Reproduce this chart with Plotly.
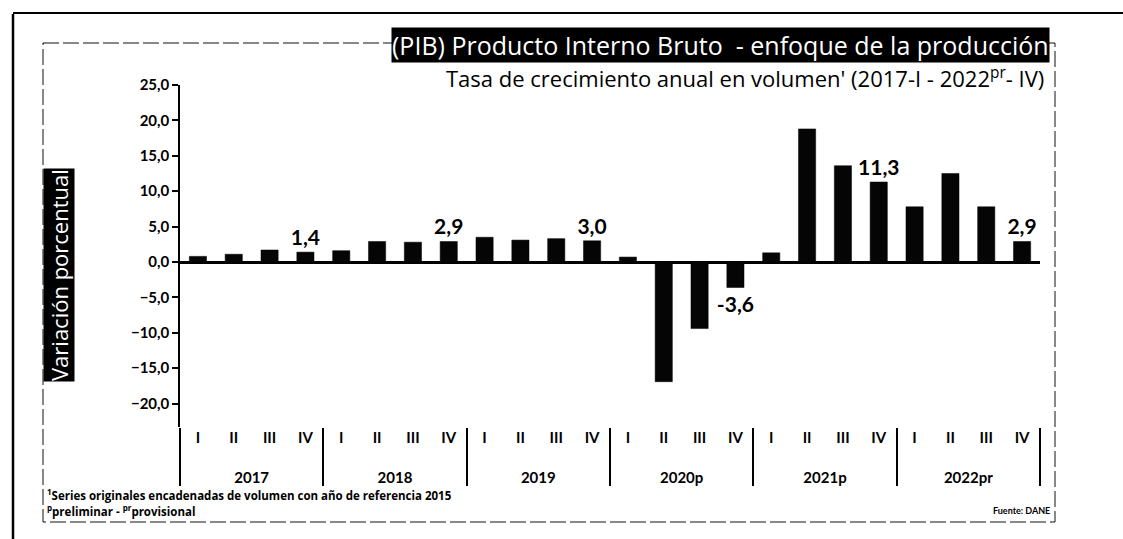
import plotly.graph_objects as go

# ---- data ----
years = ["2017", "2018", "2019", "2020p", "2021p", "2022pr"]
quarters = ["I", "II", "III", "IV"]
growth = [
    0.8, 1.1, 1.7, 1.4,      # 2017
    1.6, 2.9, 2.8, 2.9,      # 2018
    3.5, 3.1, 3.3, 3.0,      # 2019
    0.7, -16.9, -9.4, -3.6,  # 2020p
    1.3, 18.8, 13.6, 11.3,   # 2021p
    7.8, 12.5, 7.8, 2.9,     # 2022pr
]
# which bars carry a value label
labeled = [False, False, False, True,
           False, False, False, True,
           False, False, False, True,
           False, False, False, True,
           False, False, False, True,
           False, False, False, True]
y_ticks = [25, 20, 15, 10, 5, 0, -5, -10, -15, -20]

x_year = [y for y in years for _ in quarters]
# an extra blank line under the quarter labels spaces out the year row
x_q = [q + "<br>\u00a0" for _ in years for q in quarters]

W, H = 1123, 539
L, R, T, B = 180, 1040, 85, 427  # plot area in pixels


def px(x):
    return (x - L) / (R - L)


def py(y):
    return (B - y) / (B - T)


FONT = "Lato"
WIDE = "Open Sans"

fig = go.Figure()
fig.add_trace(go.Bar(
    x=[x_year, x_q],
    y=growth,
    marker=dict(color="#050505", line=dict(color="#050505", width=0.5)),
    texttemplate=["%{y:.1f}" if f else "" for f in labeled],
    textposition="outside",
    constraintext="none",
    textfont=dict(family=FONT, size=21, color="black", weight=700),
    cliponaxis=False,
    hoverinfo="skip",
))

fig.update_layout(
    width=W, height=H,
    margin=dict(l=L, r=W - R, t=T, b=H - B, pad=0),
    paper_bgcolor="white", plot_bgcolor="white",
    separators=",.",
    bargap=0.52,
    showlegend=False,
    font=dict(family=FONT, color="black"),
    xaxis=dict(
        type="multicategory",
        showgrid=False, showline=False, zeroline=False,
        showdividers=True, dividercolor="black", dividerwidth=2,
        tickfont=dict(family=FONT, size=15, color="black", weight=700),
        ticks="",
    ),
    yaxis=dict(
        range=[-23.3, 25],
        tickvals=y_ticks,
        tickformat=".1f",
        showgrid=False,
        showline=True, linecolor="black", linewidth=1.5,
        ticks="outside", ticklen=6, tickwidth=1.5, tickcolor="black",
        tickfont=dict(family=FONT, size=15, color="black", weight=700),
        zeroline=True, zerolinecolor="black", zerolinewidth=2.5,
    ),
)

annotations = [
    dict(text="(PIB) Producto Interno Bruto  - enfoque de la producción",
         x=px(1050), y=py(45), xanchor="right", yanchor="middle",
         font=dict(family=WIDE, size=25, color="white"),
         bgcolor="black", borderpad=0),
    dict(text="Tasa de crecimiento anual en volumen' (2017-I - 2022<sup>pr</sup>- IV)",
         x=px(1046), y=py(77), xanchor="right", yanchor="middle",
         font=dict(family=WIDE, size=22, color="black")),
    dict(text="Variación porcentual", textangle=-90,
         x=px(59), y=py(275), xanchor="center", yanchor="middle",
         font=dict(family=WIDE, size=22, color="white"),
         bgcolor="black", borderpad=0),
    dict(text="<sup>1</sup>Series originales encadenadas de volumen con año de referencia 2015",
         x=px(45), y=py(494), xanchor="left", yanchor="middle",
         font=dict(family=WIDE, size=11.5, color="black", weight=700)),
    dict(text="<sup>p</sup>preliminar - <sup>pr</sup>provisional",
         x=px(45), y=py(511), xanchor="left", yanchor="middle",
         font=dict(family=WIDE, size=11.5, color="black", weight=700)),
    dict(text="Fuente: DANE",
         x=px(1052), y=py(511), xanchor="right", yanchor="middle",
         font=dict(family=FONT, size=9, color="black", weight=700)),
]
for a in annotations:
    a.update(xref="paper", yref="paper", showarrow=False)
    fig.add_annotation(**a)

# frames
fig.add_shape(type="rect", xref="paper", yref="paper",
              x0=px(43), x1=px(1055), y0=py(43), y1=py(522),
              line=dict(color="#111", width=1, dash="16px,4px"), layer="below")
fig.add_shape(type="line", xref="paper", yref="paper",
              x0=px(13), x1=px(13), y0=py(14), y1=py(539),
              line=dict(color="black", width=2.5))
fig.add_shape(type="line", xref="paper", yref="paper",
              x0=px(13), x1=px(1123), y0=py(13), y1=py(13),
              line=dict(color="black", width=2))

fig.write_html("out.html", config={"displayModeBar": False},
               post_script="document.body.style.margin='0';")
